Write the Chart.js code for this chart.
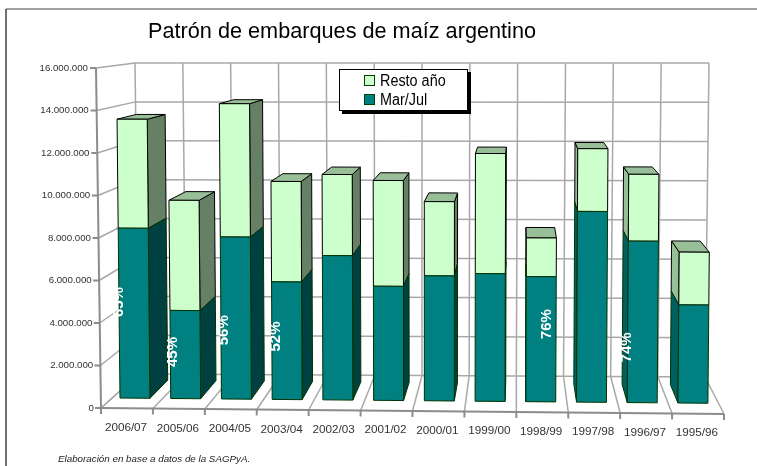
<!DOCTYPE html>
<html>
<head>
<meta charset="utf-8">
<style>
  html, body { margin: 0; padding: 0; background: #fff; }
  #wrap { width: 757px; height: 466px; }
</style>
<script src="https://cdn.jsdelivr.net/npm/chart.js@4/dist/chart.umd.min.js"></script>
</head>
<body>
<div id="wrap"><canvas id="chart" width="757" height="466"></canvas></div>
<script>
// Chart data.
const seasons = ["2006/07", "2005/06", "2004/05", "2003/04", "2002/03", "2001/02", "2000/01", "1999/00", "1998/99", "1997/98", "1996/97", "1995/96"];
const marJul = [8170000, 4230000, 7770000, 5630000, 6900000, 5450000, 5960000, 6080000, 5950000, 9060000, 7660000, 4650000];
const totals = [13410000, 9520000, 14160000, 10440000, 10780000, 10500000, 9500000, 11800000, 7790000, 12040000, 10830000, 7150000];
const restoAno = totals.map((t, i) => t - marJul[i]);
const yTickLabels = ["0", "2.000.000", "4.000.000", "6.000.000", "8.000.000", "10.000.000", "12.000.000", "14.000.000", "16.000.000"];
const pctLabels = ["65%", "45%", "56%", "52%", "", "", "", "", "76%", "", "74%", ""];

// Where the white percent labels sit, relative to the middle of the lower bar.
const pctOffsetX = [-16, -13, -13, -11, 0, 0, 0, 0, 6, 0, -15, 0];
const pctOffsetY = [-11, -2, 13, -3, 0, 0, 0, 0, -12, 0, 29, 0];

// Perspective box of the 3D plot, in canvas pixels.
const front = { topX: 96, topY: 68, botX: 101, botY: 408, rightX: 724, rightY: 414 };
const wall = { tl: [135, 63], tr: [709, 63], bl: [139, 374], br: [705, 377] };
const vanish = { x: 520, y: 20, depth: 0.048 };

// Face colours of each series, keyed by the front colour.
const faces = {
  "#008080": { sideDark: "#004040", sideLight: "#006060", edge: "#003300" },
  "#ccffcc": { sideDark: "#668066", sideLight: "#99bf99", top: "#99bf99", edge: "#000000" }
};

function lerp(a, b, t) { return a + (b - a) * t; }

// Lean the flat bar plane a little so it follows the box.
function bend(px, py) {
  const lean = lerp(0.0107, -0.0085, (px - 118) / 561);
  const tilt = (px - 118) * 0.0089;
  return [px + lean * (py - 398), py + tilt * (py - 68) / 330];
}

function away(p) {
  return [p[0] + (vanish.x - p[0]) * vanish.depth, p[1] + (vanish.y - p[1]) * vanish.depth];
}

function quad(ctx, pts, fill, stroke) {
  ctx.beginPath();
  pts.forEach((p, i) => i ? ctx.lineTo(p[0], p[1]) : ctx.moveTo(p[0], p[1]));
  ctx.closePath();
  ctx.fillStyle = fill;
  ctx.fill();
  ctx.lineWidth = 1;
  ctx.strokeStyle = stroke;
  ctx.stroke();
}

function line(ctx, x1, y1, x2, y2) {
  ctx.beginPath();
  ctx.moveTo(x1, y1);
  ctx.lineTo(x2, y2);
  ctx.stroke();
}

// Bars keep the library's geometry, only the painting is 3D.
Chart.BarElement.prototype.draw = function (ctx) {
  const { x, y, base, width, options } = this.getProps(["x", "y", "base", "width", "options"]);
  const color = options.backgroundColor;
  const c = faces[color];
  const fl = bend(x - width / 2, base), fr = bend(x + width / 2, base);
  const tl = bend(x - width / 2, y), tr = bend(x + width / 2, y);
  if (x < vanish.x - width / 2) {
    quad(ctx, [fr, tr, away(tr), away(fr)], c.sideDark, c.edge);
  } else if (x > vanish.x + width / 2) {
    quad(ctx, [fl, tl, away(tl), away(fl)], c.sideLight, c.edge);
  }
  if (c.top) quad(ctx, [tl, tr, away(tr), away(tl)], c.top, c.edge);
  quad(ctx, [fl, tl, tr, fr], color, c.edge);
};

const box3d = {
  id: "box3d",
  afterLayout(chart) {
    chart.titleBlock.left = 148;
    chart.titleBlock.right = 536;
  },
  beforeDraw(chart) {
    const ctx = chart.ctx;
    const yScale = chart.scales.y;
    const xScale = chart.scales.x;

    // Page frame.
    ctx.save();
    ctx.strokeStyle = "#808080";
    ctx.lineWidth = 1.5;
    line(ctx, 6, 9, 757, 9);
    ctx.strokeStyle = "#404040";
    line(ctx, 6, 9, 6, 466);

    // Back wall grid.
    ctx.strokeStyle = "#a8a8a8";
    ctx.lineWidth = 1.5;
    yScale.ticks.forEach(tick => {
      const t = tick.value / 16000000;
      const fy = yScale.getPixelForValue(tick.value);
      const fx = lerp(front.botX, front.topX, t);
      const lx = lerp(wall.bl[0], wall.tl[0], t), ly = lerp(wall.bl[1], wall.tl[1], t);
      const rx = lerp(wall.br[0], wall.tr[0], t), ry = lerp(wall.br[1], wall.tr[1], t);
      line(ctx, lx, ly, rx, ry);
      line(ctx, fx, fy, lx, ly);
    });
    for (let i = 0; i <= seasons.length; i++) {
      const t = i / seasons.length;
      const bx = lerp(wall.bl[0], wall.br[0], t), by = lerp(wall.bl[1], wall.br[1], t);
      line(ctx, lerp(wall.tl[0], wall.tr[0], t), lerp(wall.tl[1], wall.tr[1], t), bx, by);
      // Floor line towards the front tick.
      line(ctx, bx, by, lerp(front.botX, front.rightX, t), lerp(front.botY, front.rightY, t));
    }

    // Front axes and their tick marks.
    ctx.strokeStyle = "#8c8c8c";
    ctx.lineWidth = 2;
    line(ctx, front.topX, front.topY, front.botX, front.botY);
    line(ctx, front.botX, front.botY, front.rightX, front.rightY);
    yScale.ticks.forEach(tick => {
      const fy = yScale.getPixelForValue(tick.value);
      const fx = lerp(front.botX, front.topX, tick.value / 16000000);
      line(ctx, fx - 6, fy, fx, fy);
    });
    for (let i = 0; i <= seasons.length; i++) {
      const t = i / seasons.length;
      const tx = lerp(front.botX, front.rightX, t), ty = lerp(front.botY, front.rightY, t);
      line(ctx, tx, ty, tx, ty + 6);
    }
    ctx.restore();

    // The printed labels follow the front edge of the box, not the bar plane.
    yScale.getLabelItems().forEach((item, i) => {
      if (item.moved) return;
      item.moved = true;
      item.options.translation[0] = lerp(94, 88, i / (yScale.ticks.length - 1));
    });
    xScale.getLabelItems().forEach((item, i) => {
      if (item.moved) return;
      item.moved = true;
      item.options.translation[0] = 126 + 51.9 * i;
      item.options.translation[1] += 0.45 * i;
    });
  },
  afterDatasetsDraw(chart) {
    const ctx = chart.ctx;
    const lower = chart.getDatasetMeta(0).data;

    // White percent labels, they vanish where they leave the bar.
    ctx.save();
    ctx.fillStyle = "#ffffff";
    ctx.font = "bold 15px 'Liberation Sans'";
    ctx.textAlign = "center";
    ctx.textBaseline = "middle";
    pctLabels.forEach((text, i) => {
      if (!text) return;
      ctx.save();
      ctx.translate(lower[i].x + pctOffsetX[i], (lower[i].y + lower[i].base) / 2 + pctOffsetY[i]);
      ctx.rotate(-Math.PI / 2);
      ctx.fillText(text, 0, 0);
      ctx.restore();
    });
    ctx.restore();

    // Legend box with the drop shadow.
    ctx.save();
    ctx.fillStyle = "#000000";
    ctx.fillRect(342, 72, 129, 42);
    ctx.fillStyle = "#ffffff";
    ctx.strokeStyle = "#000000";
    ctx.lineWidth = 1;
    ctx.fillRect(339.5, 69.5, 128, 41);
    ctx.strokeRect(339.5, 69.5, 128, 41);
    ctx.textBaseline = "middle";
    [chart.data.datasets[1], chart.data.datasets[0]].forEach((set, i) => {
      const top = 75.5 + i * 19;
      ctx.fillStyle = set.backgroundColor;
      ctx.strokeStyle = "#004000";
      ctx.fillRect(364.5, top, 10, 10);
      ctx.strokeRect(364.5, top, 10, 10);
      ctx.fillStyle = "#000000";
      // No narrow face is installed, so squeeze the plain one.
      ctx.save();
      ctx.translate(380, top + 6);
      ctx.scale(0.9, 1);
      ctx.font = "16px 'Liberation Sans'";
      ctx.fillText(set.label, 0, 0);
      ctx.restore();
    });
    ctx.restore();

    // Source note.
    ctx.save();
    ctx.fillStyle = "#222222";
    ctx.font = "italic 9.8px 'Liberation Sans'";
    ctx.textBaseline = "middle";
    ctx.fillText("Elaboración en base a datos de la SAGPyA.", 58, 459);
    ctx.restore();
  }
};

new Chart(document.getElementById("chart"), {
  type: "bar",
  plugins: [box3d],
  data: {
    labels: seasons,
    datasets: [
      {
        label: "Mar/Jul",
        data: marJul,
        backgroundColor: "#008080",
        yAxisID: "y2",
        stack: "a"
      },
      {
        label: "Resto año",
        data: restoAno,
        backgroundColor: "#ccffcc",
        yAxisID: "y2",
        stack: "a"
      }
    ]
  },
  options: {
    responsive: false,
    animation: false,
    events: [],
    clip: false,
    barPercentage: 0.59,
    categoryPercentage: 1,
    layout: { padding: { left: 0, right: 38.7, top: 0, bottom: 24 } },
    plugins: {
      legend: { display: false },
      tooltip: { enabled: false },
      title: {
        display: true,
        text: "Patrón de embarques de maíz argentino",
        color: "#000000",
        font: { family: "'Liberation Sans'", size: 21.7, weight: "normal" },
        padding: { top: 19, bottom: 23 }
      }
    },
    scales: {
      x: {
        stacked: true,
        grid: { display: false },
        border: { display: false },
        afterFit(scale) { scale.height = 34; },
        ticks: {
          maxRotation: 0,
          autoSkip: false,
          padding: 5,
          color: "#333333",
          font: { family: "'Liberation Sans'", size: 11.7 }
        }
      },
      y: {
        min: 0,
        max: 16000000,
        grid: { display: false },
        border: { display: false },
        afterFit(scale) { scale.width = 109.6; },
        ticks: {
          stepSize: 2000000,
          color: "#333333",
          font: { family: "'Liberation Sans'", size: 9.7 },
          callback: (value, index) => yTickLabels[index]
        }
      },
      // Bars stand a bit behind the front edge, so they get their own scale.
      y2: {
        display: false,
        stacked: true,
        min: -480000,
        max: 15870000
      }
    }
  }
});
</script>
</body>
</html>
